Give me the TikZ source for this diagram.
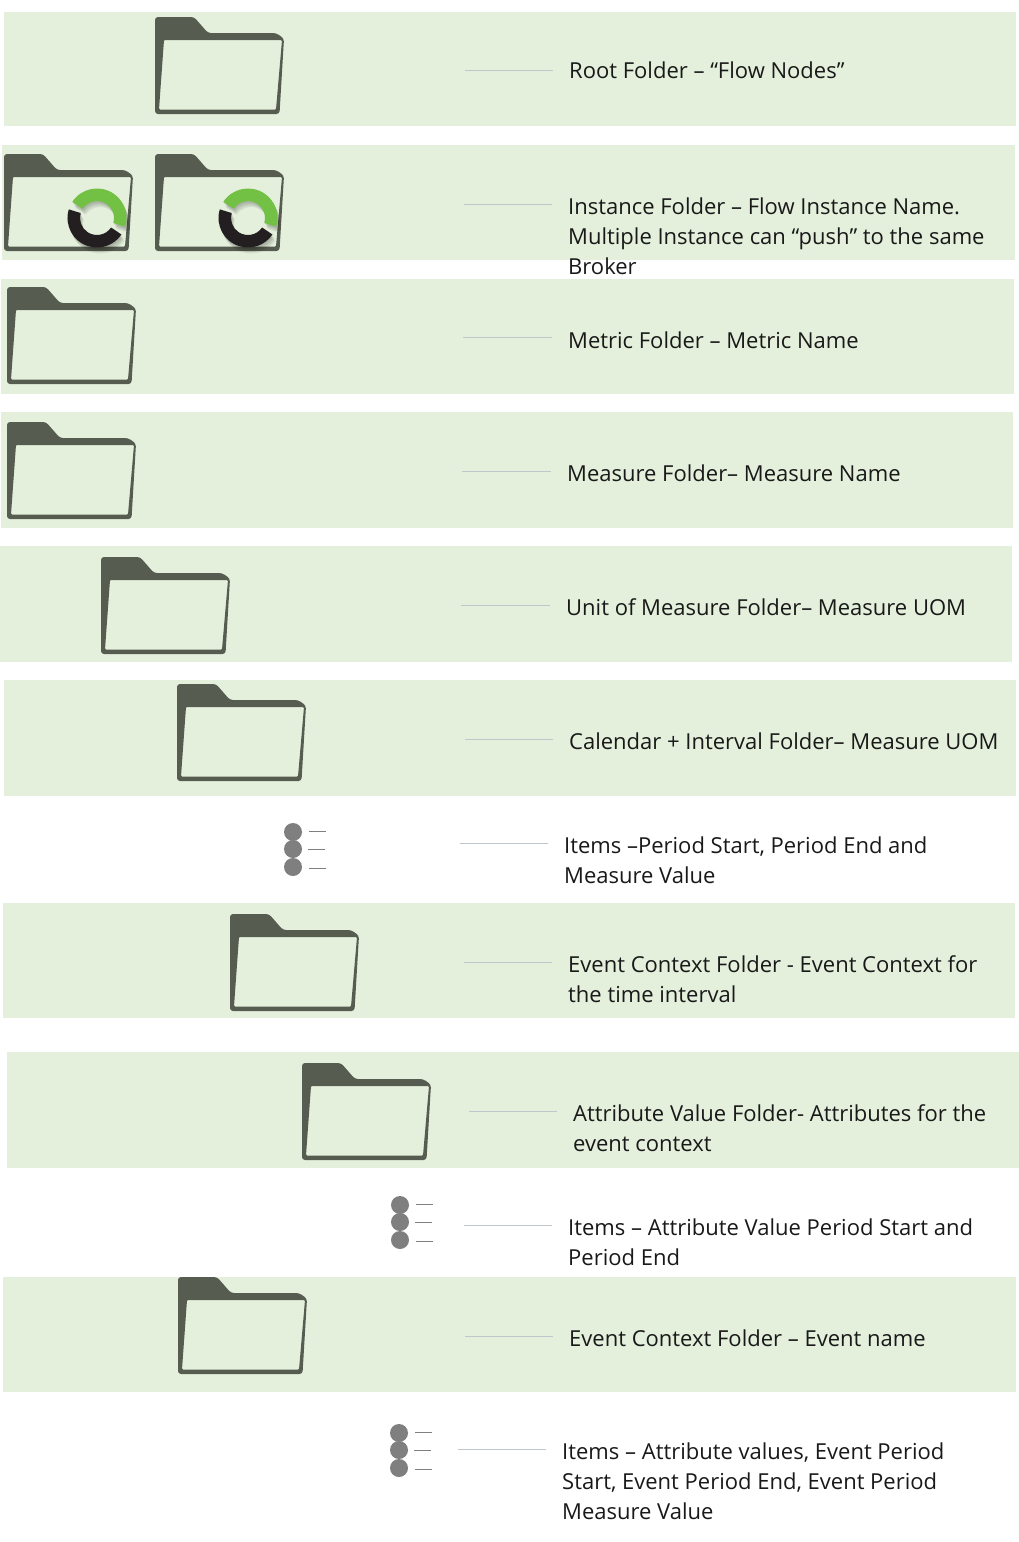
\documentclass[tikz,border=0pt]{standalone}
\usepackage{fontspec}
\setmainfont{Open Sans}
\usepackage{tikz}
\usetikzlibrary{positioning,calc}

\definecolor{bandgreen}{HTML}{E4F0DC}
\definecolor{foldergray}{HTML}{575C50}
\definecolor{ringgreen}{HTML}{72C044}
\definecolor{ringblack}{HTML}{231F20}
\definecolor{leadgray}{HTML}{BFC7CC}
\definecolor{itemgray}{HTML}{7F7F7F}

\newcommand{\ringarc}[2]{(#1:29.5) arc[start angle=#1,end angle=#2,radius=29.5] -- (#2:17) arc[start angle=#2,end angle=#1,radius=17] -- cycle}

\tikzset{
  band/.style={fill=bandgreen,draw=none},
  lead/.style={draw=leadgray,line width=0.8pt},
  lbl/.style={anchor=west,align=left,inner xsep=16pt,inner ysep=0pt,text=black!90,
    font=\fontsize{22}{30}\selectfont},
  folder/.pic={
    \fill[foldergray,even odd rule,rounded corners=3pt]
      (0,0) -- (0,97) -- (124.5,97) -- (129,21.5) -- (121,16) -- (53,16) -- (39,0) -- cycle
      [rounded corners=1pt] (9,23) -- (4,92.5) -- (121,92.5) -- (127,23) -- cycle;
  },
  ring/.pic={
    \begin{scope}[yscale=-1]
      \foreach \d in {6,4.5,3,1.5}
        \fill[black,opacity=0.07,shift={(\d/2,-\d)}] \ringarc{147}{-17} \ringarc{163}{326};
      \fill[ringgreen] \ringarc{147}{-17};
      \fill[ringblack] \ringarc{163}{326};
    \end{scope}
  },
  items/.pic={
    \foreach \y/\e/\d in {-17/-18/0,0/0/-1,18/19/0} {
      \fill[itemgray] (0,\y) circle [radius=9];
      \draw[itemgray,line width=0.8pt] (16+\d,\e) -- (33+\d,\e);
    }
  }
}

\begin{document}
\begin{tikzpicture}[x=1pt,y=-1pt]
  \useasboundingbox (0,0) rectangle (1019,1542);
  \fill[white] (0,0) rectangle (1019,1542);

  % bands
  \fill[band] (4,12) rectangle (1016,126);
  \fill[band] (2,145) rectangle (1015,260);
  \fill[band] (1,279) rectangle (1014,394);
  \fill[band] (1,412) rectangle (1013,528);
  \fill[band] (0,546) rectangle (1012,662);
  \fill[band] (4,680) rectangle (1016,796);
  \fill[band] (3,903) rectangle (1015,1018);
  \fill[band] (7,1052) rectangle (1019,1168);
  \fill[band] (3,1277) rectangle (1016,1392);

  % folders
  \pic at (155,17) {folder};
  \pic at (4,154) {folder};
  \pic at (97,218) {ring};
  \pic at (155,154) {folder};
  \pic at (248,218) {ring};
  \pic at (7,287) {folder};
  \pic at (7,422) {folder};
  \pic at (101,557) {folder};
  \pic at (177,684) {folder};
  \pic at (230,914) {folder};
  \pic at (302,1063) {folder};
  \pic at (178,1277) {folder};

  % items
  \pic at (293,849) {items};
  \pic at (400,1222) {items};
  \pic at (399,1450) {items};

  % leader starts
  \coordinate (root) at (465,70);
  \coordinate (instance) at (464,204);
  \coordinate (metric) at (463,337);
  \coordinate (measure) at (462,471);
  \coordinate (uom) at (461,605);
  \coordinate (calendar) at (465,739);
  \coordinate (items1) at (460,843);
  \coordinate (context1) at (464,962);
  \coordinate (attr) at (469,1111);
  \coordinate (items2) at (464,1225);
  \coordinate (context2) at (465,1336);
  \coordinate (items3) at (458,1449);

  % labels
  \node[lbl] (rootlbl) at (553,70) {Root Folder – “Flow Nodes”};
  \node[lbl] (instancelbl) at (552,236) {Instance Folder – Flow Instance Name.\\Multiple Instance can “push” to the same\\Broker};
  \node[lbl] (metriclbl) at (552,340) {Metric Folder – Metric Name};
  \node[lbl] (measurelbl) at (551,473) {Measure Folder– Measure Name};
  \node[lbl] (uomlbl) at (550,607) {Unit of Measure Folder– Measure UOM};
  \node[lbl] (calendarlbl) at (553,741) {Calendar + Interval Folder– Measure UOM};
  \node[lbl] (items1lbl) at (548,860) {Items –Period Start, Period End and\\Measure Value};
  \node[lbl] (context1lbl) at (552,979) {Event Context Folder - Event Context for\\the time interval};
  \node[lbl] (attrlbl) at (557,1128) {Attribute Value Folder- Attributes for the\\event context};
  \node[lbl] (items2lbl) at (552,1242) {Items – Attribute Value Period Start and\\Period End};
  \node[lbl] (context2lbl) at (553,1338) {Event Context Folder – Event name};
  \node[lbl] (items3lbl) at (546,1481) {Items – Attribute values, Event Period\\Start, Event Period End, Event Period\\Measure Value};

  % leaders
  \foreach \n in {root,instance,metric,measure,uom,calendar,items1,context1,attr,items2,context2,items3}
  \draw[lead] (\n) -- (\n -| \n lbl.west);
\end{tikzpicture}
\end{document}
